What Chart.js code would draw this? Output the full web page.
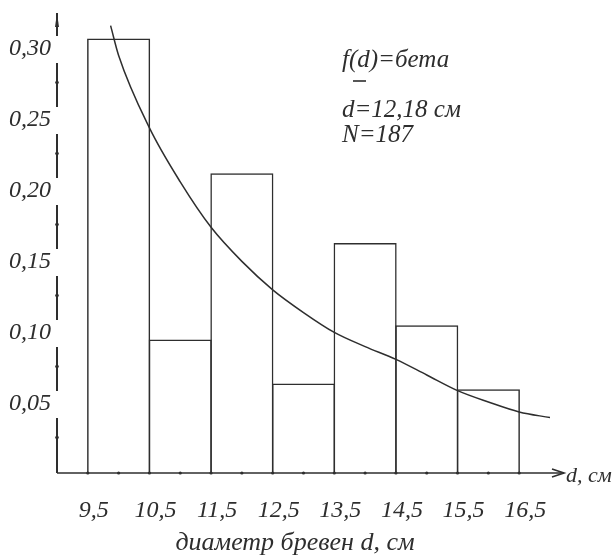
<!DOCTYPE html>
<html>
<head>
<meta charset="utf-8">
<script src="https://cdn.jsdelivr.net/npm/chart.js@4.4.0/dist/chart.umd.min.js"></script>
<style>
html, body { margin: 0; padding: 0; background: #fff; }
</style>
</head>
<body>
<canvas id="histChart" width="615" height="558"></canvas>
<script>
"use strict";

// histogram: bin centres and relative frequencies
var binCenters = [10, 11, 12, 13, 14, 15, 16];
var binShares = [0.306, 0.094, 0.211, 0.063, 0.162, 0.104, 0.059];

// fitted beta density
var curveD = [9.87, 10, 10.5, 11, 11.5, 12, 12.5, 13, 13.5, 14, 14.5, 15, 15.5, 16, 16.5, 17];
var curveF = [0.315, 0.294, 0.243, 0.205, 0.173, 0.149, 0.129, 0.113, 0.099, 0.089, 0.080, 0.069, 0.058, 0.050, 0.043, 0.039];

// axes
var xTickValues = [9.5, 10.5, 11.5, 12.5, 13.5, 14.5, 15.5, 16.5];
var xTickLabels = ["9,5", "10,5", "11,5", "12,5", "13,5", "14,5", "15,5", "16,5"];
var xMinorTicks = [10, 11, 12, 13, 14, 15, 16];
var yTickValues = [0.05, 0.10, 0.15, 0.20, 0.25, 0.30];
var yTickLabels = ["0,05", "0,10", "0,15", "0,20", "0,25", "0,30"];
var yMinorTicks = [0.025, 0.075, 0.125, 0.175, 0.225, 0.275];

var notes = ["f(d)=бета", "d=12,18 см", "N=187"];

var ink = "#2e2e2e";
var serif = "'Liberation Serif', 'DejaVu Serif', serif";

var axesPlugin = {
    id: "axes",
    afterDraw: function(chart) {
        var ctx = chart.ctx, a = chart.chartArea, xs = chart.scales.x, ys = chart.scales.y;
        ctx.save();
        ctx.strokeStyle = ink;
        ctx.fillStyle = ink;
        ctx.lineWidth = 1.6;

        // x axis with arrow
        var ax = a.left, ay = a.bottom, tipX = a.right + 14;
        ctx.beginPath();
        ctx.moveTo(ax, ay);
        ctx.lineTo(tipX, ay);
        ctx.stroke();
        ctx.beginPath();
        ctx.moveTo(tipX - 12, ay - 4);
        ctx.lineTo(tipX, ay);
        ctx.lineTo(tipX - 12, ay + 4);
        ctx.stroke();

        // y axis, broken around its labels
        ctx.lineWidth = 2;
        var gaps = yTickValues.map(function(v) { return ys.getPixelForValue(v) + 2; }).sort(function(p, q) { return p - q; });
        var from = a.top - 2;
        gaps.forEach(function(g) {
            ctx.beginPath();
            ctx.moveTo(ax, from);
            ctx.lineTo(ax, g - 13);
            ctx.stroke();
            from = g + 14;
        });
        ctx.beginPath();
        ctx.moveTo(ax, from);
        ctx.lineTo(ax, ay);
        ctx.stroke();
        ctx.beginPath();
        ctx.moveTo(ax - 2, a.top + 12);
        ctx.lineTo(ax, a.top - 2);
        ctx.lineTo(ax + 2, a.top + 12);
        ctx.fill();
        ctx.lineWidth = 1.6;

        // tick dots
        xTickValues.concat(xMinorTicks).forEach(function(v) {
            ctx.beginPath();
            ctx.arc(xs.getPixelForValue(v), ay, 1.6, 0, Math.PI * 2);
            ctx.fill();
        });
        yMinorTicks.forEach(function(v) {
            ctx.beginPath();
            ctx.arc(ax, ys.getPixelForValue(v), 1.8, 0, Math.PI * 2);
            ctx.fill();
        });

        // axis captions
        ctx.font = "italic 22px " + serif;
        ctx.textBaseline = "middle";
        ctx.textAlign = "left";
        ctx.fillText("d, см", tipX + 2, ay + 3);
        ctx.font = "italic 26px " + serif;
        ctx.textAlign = "center";
        ctx.textBaseline = "alphabetic";
        ctx.fillText("диаметр бревен d, см", 295, 550);

        // notes
        ctx.font = "italic 25px " + serif;
        ctx.textAlign = "left";
        ctx.fillText(notes[0], 342, 67);
        ctx.fillText(notes[1], 342, 117);
        ctx.fillText(notes[2], 342, 142);
        ctx.beginPath();
        ctx.moveTo(353, 81);
        ctx.lineTo(366, 81);
        ctx.stroke();
        ctx.restore();
    }
};

new Chart(document.getElementById("histChart"), {
    type: "bar",
    plugins: [axesPlugin],
    data: {
        datasets: [{
            type: "line",
            data: curveD.map(function(d, i) { return { x: d, y: curveF[i] }; }),
            borderColor: ink,
            borderWidth: 1.5,
            pointRadius: 0,
            fill: false,
            cubicInterpolationMode: "monotone"
        }, {
            type: "bar",
            data: binCenters.map(function(c, i) { return { x: c, y: binShares[i] }; }),
            backgroundColor: "rgba(0,0,0,0)",
            borderColor: ink,
            borderWidth: 1.5,
            borderSkipped: "bottom",
            barPercentage: 1.024,
            categoryPercentage: 1
        }]
    },
    options: {
        responsive: false,
        animation: false,
        devicePixelRatio: 1,
        layout: { padding: { left: 0, top: 15, right: 65, bottom: 0 } },
        plugins: { legend: { display: false }, tooltip: { enabled: false } },
        scales: {
            x: {
                type: "linear",
                min: 9,
                max: 17,
                offset: false,
                grid: { display: false },
                border: { display: false },
                afterBuildTicks: function(scale) {
                    scale.ticks = xTickValues.map(function(v) { return { value: v }; });
                },
                afterFit: function(scale) { scale.height = 85; },
                ticks: {
                    autoSkip: false,
                    maxRotation: 0,
                    padding: 15,
                    labelOffset: 6,
                    color: ink,
                    font: { family: serif, size: 24, style: "italic" },
                    callback: function(v, i) { return xTickLabels[i]; }
                }
            },
            y: {
                min: 0,
                max: 0.3225,
                grid: { display: false },
                border: { display: false },
                afterBuildTicks: function(scale) {
                    scale.ticks = yTickValues.map(function(v) { return { value: v }; });
                },
                afterFit: function(scale) { scale.width = 57; },
                ticks: {
                    autoSkip: false,
                    padding: -2,
                    labelOffset: 2,
                    color: ink,
                    font: { family: serif, size: 24, style: "italic" },
                    callback: function(v, i) { return yTickLabels[i]; }
                }
            }
        }
    }
});
</script>
</body>
</html>
